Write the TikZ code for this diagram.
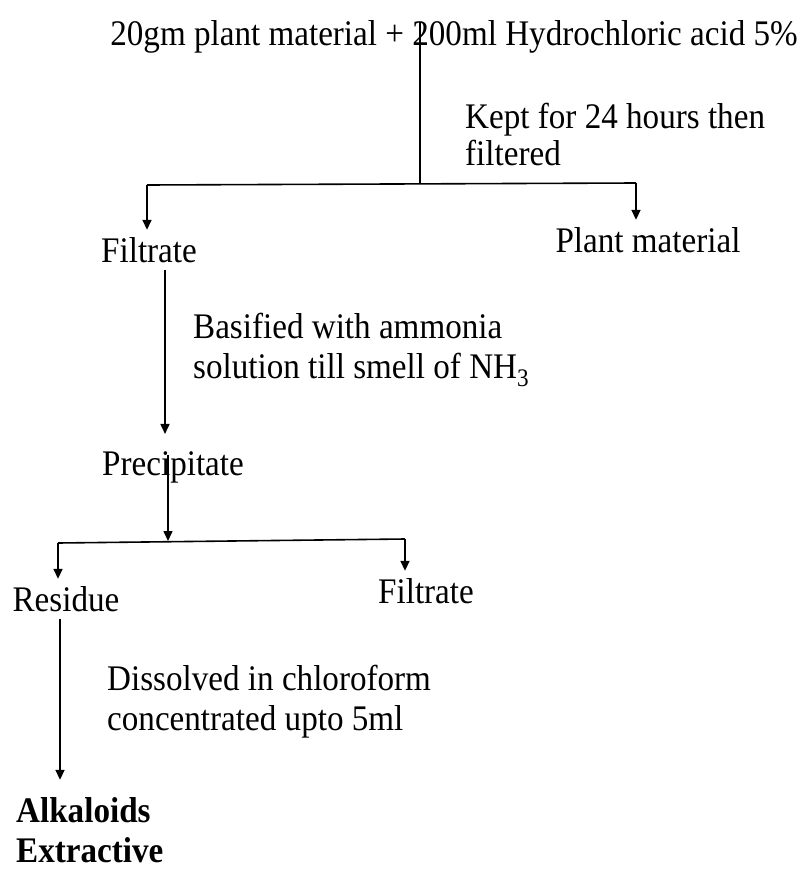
\documentclass[tikz,border=0pt]{standalone}
\usepackage{fontspec}
\setmainfont[FakeStretch=0.92]{Liberation Serif}
\usetikzlibrary{arrows.meta}
\begin{document}
\begin{tikzpicture}[x=1pt,y=-1pt,
 txt/.style={inner xsep=0pt, inner ysep=7pt, anchor=base, font=\fontsize{36}{39}\selectfont},
 txtl/.style={txt, anchor=base west},
 bold/.style={font=\fontsize{36}{39}\selectfont\bfseries},
 ln/.style={line width=1.6pt},
 arr/.style={ln, -{Triangle[length=10pt,width=9pt]}}]
\useasboundingbox (0,0) rectangle (802,870);
\node[txt] (top) at (454,45) {20gm plant material + 200ml Hydrochloric acid 5\%};
\node[txtl] (kept1) at (465,128) {Kept for 24 hours then};
\node[txtl] (kept2) at (465,165) {filtered};
\node[txt] (f1) at (149,262) {Filtrate};
\node[txt] (pm) at (648,252) {Plant material};
\node[txtl] (bas1) at (193,338) {Basified with ammonia};
\node[txtl] (bas2) at (193,378) {solution till smell of NH\textsubscript{3}};
\node[txt] (pre) at (173,475) {Precipitate};
\node[txt] (res) at (66,611) {Residue};
\node[txt] (f2) at (426,603) {Filtrate};
\node[txtl] (dis1) at (107,690) {Dissolved in chloroform};
\node[txtl] (dis2) at (107,730) {concentrated upto 5ml};
\node[txtl,bold] (alk1) at (16,822) {Alkaloids};
\node[txtl,bold] (alk2) at (16,862) {Extractive};
\coordinate (s1) at (420,22);
\coordinate (j1) at (420,184);
\coordinate (l1) at (147,185);
\coordinate (r1) at (636,183);
\draw[ln] (s1) -- (j1);
\draw[ln] (l1) -- (r1);
\draw[arr] (l1) -- (l1 |- f1.north);
\draw[arr] (r1) -- (r1 |- pm.north);
\draw[arr,shorten >=10pt] ([xshift=16pt]f1.south) -- ([xshift=16pt]f1.south |- pre.north);
\coordinate (s2) at (168,455);
\coordinate (j2) at (168,541);
\coordinate (l2) at (58,543);
\coordinate (r2) at (405,539);
\draw[arr] (s2) -- (j2);
\draw[ln] (l2) -- (r2);
\draw[arr] (l2) -- (l2 |- res.north);
\draw[arr] (r2) -- (r2 |- f2.north);
\draw[arr,shorten >=10pt] ([xshift=-6pt]res.south) -- ([xshift=-6pt]res.south |- alk1.north);
\end{tikzpicture}
\end{document}
